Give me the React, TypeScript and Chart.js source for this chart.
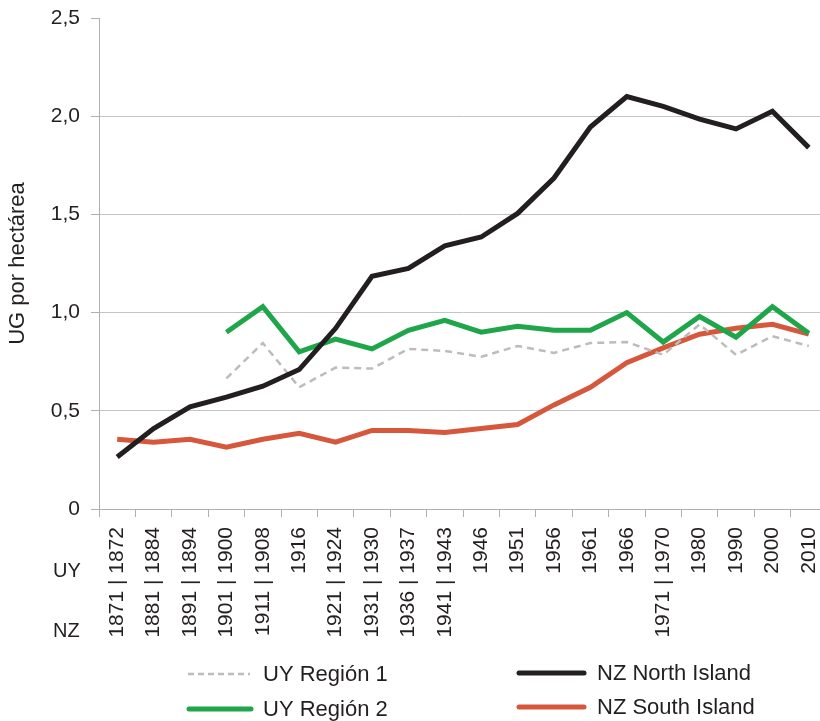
import React, { useEffect, useRef } from 'react';
import { Chart, registerables } from 'chart.js';

Chart.register(...registerables);

const categories = [
  '1871 | 1872', '1881 | 1884', '1891 | 1894', '1901 | 1900', '1911 | 1908', '1916',
  '1921 | 1924', '1931 | 1930', '1936 | 1937', '1941 | 1943', '1946', '1951', '1956',
  '1961', '1966', '1971 | 1970', '1980', '1990', '2000', '2010',
];

const nzNorth = [0.265, 0.41, 0.52, 0.57, 0.625, 0.71, 0.92, 1.185, 1.225, 1.34, 1.385, 1.505, 1.685, 1.945, 2.1, 2.05, 1.985, 1.935, 2.025, 1.84];
const nzSouth = [0.355, 0.34, 0.355, 0.315, 0.355, 0.385, 0.34, 0.4, 0.4, 0.39, 0.41, 0.43, 0.53, 0.62, 0.745, 0.82, 0.89, 0.92, 0.94, 0.89];
const uyRegion2 = [null, null, null, 0.9, 1.03, 0.8, 0.865, 0.815, 0.91, 0.96, 0.9, 0.93, 0.91, 0.91, 1.0, 0.85, 0.98, 0.875, 1.03, 0.895];
const uyRegion1 = [null, null, null, 0.665, 0.845, 0.62, 0.72, 0.715, 0.815, 0.805, 0.775, 0.83, 0.795, 0.845, 0.85, 0.785, 0.94, 0.785, 0.88, 0.83];

const yMin = 0;
const yMax = 2.5;
const yStep = 0.5;
const rowLabels = ['UY', 'NZ'];
const yTitle = 'UG por hectárea';

const FONT = '"Liberation Sans", Arial, Helvetica, sans-serif';
const TEXT = '#231f20';
const AXIS = '#b0b0b0';
const GRID = '#c4c4c4';
const C_NORTH = '#231f20';
const C_SOUTH = '#d6573b';
const C_UY2 = '#1fa54a';
const C_UY1 = '#bcbcbc';

const legendItems = [
  { label: 'UY Región 1', color: C_UY1, width: 2.5, dash: [6, 4], cap: 'butt', x0: 188, x1: 250, tx: 263, y: 674 },
  { label: 'UY Región 2', color: C_UY2, width: 5, dash: [], cap: 'round', x0: 189, x1: 251, tx: 263, y: 709 },
  { label: 'NZ North Island', color: C_NORTH, width: 5, dash: [], cap: 'round', x0: 519, x1: 584, tx: 597, y: 673 },
  { label: 'NZ South Island', color: C_SOUTH, width: 5, dash: [], cap: 'round', x0: 519, x1: 584, tx: 597, y: 707 },
];

const overlay = {
  id: 'overlay',
  afterDraw(chart: any) {
    const ctx = chart.ctx as CanvasRenderingContext2D;
    ctx.save();
    ctx.font = `20px ${FONT}`;
    ctx.fillStyle = TEXT;
    ctx.textBaseline = 'middle';
    ctx.textAlign = 'left';
    ctx.fillText(rowLabels[0], 53, 571);
    ctx.fillText(rowLabels[1], 53, 631);
    for (const it of legendItems) {
      ctx.beginPath();
      ctx.strokeStyle = it.color;
      ctx.lineWidth = it.width;
      ctx.lineCap = it.cap as CanvasLineCap;
      ctx.setLineDash(it.dash);
      ctx.moveTo(it.x0, it.y);
      ctx.lineTo(it.x1, it.y);
      ctx.stroke();
      ctx.setLineDash([]);
      ctx.fillStyle = TEXT;
      ctx.font = `22px ${FONT}`;
      ctx.fillText(it.label, it.tx, it.y + 1);
    }
    ctx.restore();
  },
};

export default function App() {
  const ref = useRef<HTMLCanvasElement | null>(null);

  useEffect(() => {
    if (!ref.current) return;
    const chart = new Chart(ref.current, {
      type: 'line',
      data: {
        labels: categories,
        datasets: [
          { label: 'NZ North Island', data: nzNorth, borderColor: C_NORTH, borderWidth: 5, pointRadius: 0, tension: 0, fill: false },
          { label: 'UY Región 2', data: uyRegion2, borderColor: C_UY2, borderWidth: 5, pointRadius: 0, tension: 0, fill: false },
          { label: 'UY Región 1', data: uyRegion1, borderColor: C_UY1, borderWidth: 2.5, borderDash: [7, 5], pointRadius: 0, tension: 0, fill: false },
          { label: 'NZ South Island', data: nzSouth, borderColor: C_SOUTH, borderWidth: 5, pointRadius: 0, tension: 0, fill: false },
        ],
      },
      options: {
        responsive: false,
        animation: false,
        devicePixelRatio: 1,
        layout: { padding: { top: 18, right: 13, left: 0, bottom: 0 } },
        plugins: {
          legend: { display: false },
          tooltip: { enabled: false },
        },
        scales: {
          x: {
            type: 'category',
            offset: true,
            afterFit: (s: any) => { s.height = 212; s.paddingLeft = 0; s.paddingRight = 0; },
            grid: { offset: true, drawOnChartArea: false, drawTicks: true, tickLength: 8, color: AXIS },
            border: { display: true, color: AXIS, width: 1 },
            ticks: {
              autoSkip: false,
              maxRotation: 90,
              minRotation: 90,
              padding: 10,
              color: TEXT,
              font: { family: FONT, size: 21 },
            },
          },
          y: {
            min: yMin,
            max: yMax,
            afterFit: (s: any) => { s.width = 99; s.paddingTop = 0; s.paddingBottom = 0; },
            grid: {
              color: (c: any) => (c.tick && c.tick.value === yMax ? 'rgba(0,0,0,0)' : GRID),
              tickColor: AXIS,
              tickLength: 8,
              drawTicks: true,
            },
            border: { display: true, color: AXIS, width: 1 },
            ticks: {
              stepSize: yStep,
              padding: 11,
              color: TEXT,
              font: { family: FONT, size: 21 },
              callback: (v: any) => (Number(v) === 0 ? '0' : Number(v).toFixed(1).replace('.', ',')),
            },
            title: {
              display: true,
              text: yTitle,
              color: TEXT,
              font: { family: FONT, size: 22 },
              padding: { top: 5, bottom: 0 },
            },
          },
        },
      },
      plugins: [overlay],
    });
    return () => chart.destroy();
  }, []);

  return (
    <div style={{ position: 'fixed', left: 0, top: 0, width: 820, height: 721, overflow: 'hidden', background: '#fff' }}>
      <canvas ref={ref} width={840} height={721} style={{ display: 'block', width: 840, height: 721 }} />
    </div>
  );
}
